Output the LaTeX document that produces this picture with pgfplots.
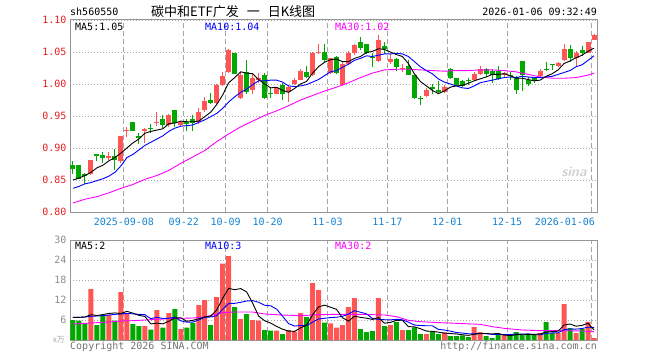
\documentclass[border=0pt]{standalone}
\usepackage{pgfplots}
\pgfplotsset{compat=1.18}
\usepackage{pgfplotstable}
\usepackage{fontspec}
\setmonofont{DejaVu Sans Mono}
\newfontfamily\cjk{Noto Sans CJK SC}
\definecolor{cred}{RGB}{255,85,85}
\definecolor{cgreen}{RGB}{0,168,0}
\definecolor{mablue}{RGB}{0,0,255}
\definecolor{mamag}{RGB}{255,0,255}
\definecolor{xlab}{RGB}{20,130,210}
\definecolor{ylab}{RGB}{230,30,30}
\definecolor{framec}{RGB}{150,150,150}
\definecolor{gridc}{RGB}{165,165,165}
\newcommand\lab{\ttfamily\fontsize{10bp}{11bp}\selectfont}

% candles: x, lo=min(open,close), hi=max(open,close), l=low, h=high
\pgfplotstableread[row sep=\\]{
x lo hi l h\\
3 0.860 0.882 0.858 0.882\\
6 0.884 0.887 0.881 0.894\\
8 0.879 0.918 0.876 0.919\\
9 0.927 0.928 0.917 0.933\\
12 0.927 0.930 0.908 0.931\\
14 0.939 0.941 0.935 0.956\\
16 0.936 0.952 0.933 0.953\\
18 0.936 0.940 0.934 0.942\\
21 0.940 0.957 0.938 0.962\\
22 0.959 0.974 0.957 0.980\\
24 0.970 0.998 0.969 1.000\\
25 0.998 1.013 0.997 1.018\\
26 1.018 1.053 1.017 1.054\\
28 0.978 1.014 0.976 1.018\\
30 0.991 1.009 0.985 1.017\\
31 1.007 1.010 1.001 1.017\\
34 0.985 0.993 0.984 0.995\\
36 0.988 0.996 0.972 0.998\\
37 1.000 1.006 0.998 1.009\\
38 1.007 1.021 1.006 1.023\\
40 1.014 1.049 1.012 1.050\\
41 1.049 1.050 1.047 1.063\\
43 1.017 1.040 1.016 1.041\\
45 0.998 1.032 0.997 1.035\\
46 1.031 1.049 1.029 1.051\\
47 1.048 1.061 1.046 1.062\\
51 1.036 1.069 1.035 1.076\\
53 1.035 1.039 1.032 1.047\\
55 1.024 1.025 1.018 1.031\\
59 0.981 0.990 0.980 0.993\\
62 0.988 0.996 0.986 0.999\\
67 1.006 1.015 1.004 1.019\\
68 1.016 1.024 1.014 1.028\\
72 1.014 1.017 1.011 1.019\\
78 1.013 1.020 1.011 1.023\\
81 1.028 1.033 1.027 1.034\\
82 1.037 1.054 1.036 1.062\\
84 1.040 1.049 1.028 1.052\\
86 1.049 1.065 1.048 1.066\\
87 1.069 1.077 1.068 1.078\\
}\redtab
\pgfplotstableread[row sep=\\]{
x lo hi l h\\
0 0.867 0.873 0.860 0.879\\
1 0.852 0.873 0.851 0.874\\
2 0.857 0.860 0.843 0.861\\
4 0.888 0.890 0.879 0.890\\
5 0.885 0.889 0.877 0.894\\
7 0.881 0.888 0.866 0.899\\
10 0.926 0.940 0.926 0.940\\
11 0.915 0.919 0.907 0.924\\
13 0.929 0.931 0.924 0.937\\
15 0.936 0.945 0.931 0.952\\
17 0.939 0.959 0.933 0.959\\
19 0.937 0.940 0.926 0.946\\
20 0.939 0.945 0.927 0.952\\
23 0.971 0.975 0.969 0.986\\
27 1.016 1.049 1.015 1.049\\
29 0.988 1.019 0.985 1.037\\
32 0.978 1.014 0.977 1.017\\
33 0.985 0.986 0.978 0.993\\
35 0.985 0.998 0.975 1.001\\
39 1.011 1.018 1.009 1.028\\
42 1.038 1.050 1.035 1.062\\
44 1.017 1.042 1.016 1.043\\
48 1.056 1.066 1.053 1.073\\
49 1.049 1.062 1.047 1.063\\
50 1.041 1.042 1.026 1.049\\
52 1.054 1.059 1.047 1.065\\
54 1.026 1.039 1.021 1.041\\
56 1.014 1.028 1.014 1.037\\
57 0.978 1.014 0.977 1.014\\
58 0.977 0.978 0.967 0.981\\
60 0.992 0.996 0.984 1.000\\
61 0.988 0.991 0.985 1.004\\
63 1.009 1.023 1.008 1.025\\
64 0.999 1.009 0.998 1.010\\
65 0.997 1.004 0.996 1.006\\
66 1.005 1.007 0.999 1.009\\
69 1.015 1.024 1.011 1.025\\
70 1.014 1.020 1.002 1.024\\
71 1.008 1.020 1.006 1.028\\
73 1.013 1.014 1.007 1.019\\
74 0.991 1.011 0.985 1.012\\
75 1.014 1.036 0.989 1.036\\
76 1.000 1.007 0.997 1.011\\
77 1.006 1.009 1.002 1.011\\
79 1.022 1.024 1.021 1.034\\
80 1.030 1.031 1.022 1.032\\
83 1.040 1.054 1.035 1.061\\
85 1.049 1.053 1.043 1.059\\
}\greentab
\pgfplotstableread[row sep=\\]{
x m5 m10\\
0 0.850 0.837\\ 1 0.853 0.840\\ 2 0.857 0.844\\ 3 0.862 0.846\\ 4 0.869 0.849\\
5 0.873 0.852\\ 6 0.880 0.856\\ 7 0.885 0.862\\ 8 0.892 0.872\\ 9 0.900 0.885\\
10 0.908 0.890\\ 11 0.914 0.897\\ 12 0.923 0.904\\ 13 0.926 0.909\\ 14 0.928 0.914\\
15 0.930 0.919\\ 16 0.938 0.926\\ 17 0.939 0.931\\ 18 0.942 0.934\\ 19 0.941 0.935\\
20 0.941 0.936\\ 21 0.942 0.940\\ 22 0.949 0.944\\ 23 0.956 0.949\\ 24 0.968 0.954\\
25 0.983 0.962\\ 26 1.002 0.972\\ 27 1.010 0.980\\ 28 1.019 0.987\\ 29 1.017 0.992\\
30 1.016 0.999\\ 31 1.007 1.005\\ 32 1.000 1.005\\ 33 0.994 1.006\\ 34 0.995 1.006\\
35 0.990 1.003\\ 36 0.987 0.997\\ 37 0.993 0.996\\ 38 1.000 0.997\\ 39 1.004 0.999\\
40 1.017 1.003\\ 41 1.027 1.007\\ 42 1.034 1.013\\ 43 1.038 1.019\\ 44 1.039 1.021\\
45 1.035 1.026\\ 46 1.035 1.031\\ 47 1.040 1.037\\ 48 1.043 1.040\\ 49 1.049 1.044\\
50 1.051 1.043\\ 51 1.055 1.045\\ 52 1.054 1.047\\ 53 1.050 1.047\\ 54 1.046 1.048\\
55 1.043 1.047\\ 56 1.032 1.043\\ 57 1.016 1.035\\ 58 1.004 1.027\\ 59 0.997 1.021\\
60 0.990 1.016\\ 61 0.985 1.008\\ 62 0.989 1.003\\ 63 0.995 1.000\\ 64 0.997 0.997\\
65 0.998 0.994\\ 66 1.001 0.993\\ 67 1.005 0.997\\ 68 1.008 1.002\\ 69 1.011 1.004\\
70 1.015 1.006\\ 71 1.015 1.008\\ 72 1.016 1.010\\ 73 1.013 1.011\\ 74 1.009 1.010\\
75 1.009 1.012\\ 76 1.007 1.011\\ 77 1.005 1.010\\ 78 1.006 1.010\\ 79 1.012 1.011\\
80 1.016 1.012\\ 81 1.022 1.015\\ 82 1.032 1.018\\ 83 1.036 1.021\\ 84 1.041 1.027\\
85 1.045 1.030\\ 86 1.051 1.037\\ 87 1.056 1.044\\
}\matab
\pgfplotstableread[row sep=\\]{
x m30\\
0 0.814\\ 2 0.820\\ 4 0.824\\ 6 0.830\\ 8 0.837\\ 10 0.843\\ 12 0.851\\ 14 0.857\\
16 0.865\\ 18 0.876\\ 20 0.886\\ 22 0.896\\ 24 0.910\\ 26 0.922\\ 28 0.933\\ 30 0.942\\
32 0.951\\ 34 0.958\\ 36 0.966\\ 38 0.975\\ 40 0.982\\ 42 0.989\\ 44 0.995\\ 46 1.002\\
48 1.010\\ 50 1.017\\ 52 1.022\\ 54 1.023\\ 56 1.023\\ 58 1.022\\ 60 1.021\\ 62 1.020\\
64 1.021\\ 66 1.021\\ 68 1.022\\ 70 1.022\\ 72 1.021\\ 74 1.019\\ 76 1.015\\ 78 1.011\\
80 1.009\\ 82 1.009\\ 84 1.010\\ 86 1.014\\ 87 1.017\\
}\mathirty
\pgfplotstableread[row sep=\\]{
x v\\
3 15.3\\ 6 7.5\\ 8 14.4\\ 9 7.8\\ 12 4.2\\ 14 9.0\\ 16 8.1\\ 18 3.3\\ 21 10.5\\ 22 12.0\\
24 12.9\\ 25 22.9\\ 26 25.2\\ 28 6.3\\ 30 6.0\\ 31 5.8\\ 34 2.8\\ 36 3.0\\ 37 2.5\\ 38 8.1\\
40 17.1\\ 41 15.0\\ 43 5.0\\ 44 3.7\\ 45 4.5\\ 46 9.9\\ 47 12.6\\ 51 12.6\\ 53 4.5\\ 55 3.0\\
59 1.8\\ 62 2.3\\ 67 3.9\\ 68 2.4\\ 72 1.5\\ 78 2.1\\ 81 2.1\\ 82 10.8\\ 84 2.1\\ 86 5.4\\
87 0.6\\
}\volred
\pgfplotstableread[row sep=\\]{
x v\\
0 6.0\\ 1 5.8\\ 2 5.1\\ 4 4.5\\ 5 7.5\\ 7 5.8\\ 10 4.8\\ 11 4.2\\ 13 3.1\\ 15 3.7\\
17 9.3\\ 19 3.7\\ 20 5.1\\ 23 4.5\\ 27 9.9\\ 29 7.8\\ 32 3.0\\ 33 2.8\\ 35 1.8\\ 39 6.9\\
42 5.2\\ 48 3.3\\ 49 2.4\\ 50 2.7\\ 52 4.2\\ 54 5.4\\ 56 3.0\\ 57 3.8\\ 58 1.8\\ 60 2.6\\
61 1.8\\ 63 1.2\\ 64 1.2\\ 65 1.4\\ 66 0.9\\ 69 1.2\\ 70 0.6\\ 71 1.8\\ 73 1.5\\ 74 2.4\\
75 1.5\\ 76 1.5\\ 77 1.5\\ 79 5.4\\ 80 2.1\\ 83 3.6\\ 85 3.3\\
}\volgreen
\pgfplotstableread[row sep=\\]{
x v5 v10\\
0 6.8 6.8\\ 1 6.8 6.8\\ 2 6.9 6.9\\ 3 7.6 7.1\\ 4 7.34 7.2\\ 5 7.64 7.3\\ 6 7.98 7.5\\
7 8.12 7.7\\ 8 7.94 7.8\\ 9 8.6 7.97\\ 10 8.06 7.85\\ 11 7.4 7.69\\ 12 7.08 7.6\\
13 4.82 6.38\\ 14 5.06 6.83\\ 15 4.84 6.45\\ 16 5.62 6.51\\ 17 6.64 6.86\\ 18 6.68 5.75\\
19 5.62 5.34\\ 20 5.9 5.37\\ 21 6.38 6.0\\ 22 6.92 6.78\\ 23 7.16 6.92\\ 24 9.0 7.31\\
25 12.56 9.23\\ 26 15.5 10.94\\ 27 15.08 11.0\\ 28 15.44 11.3\\ 29 14.42 11.71\\
30 11.04 11.8\\ 31 7.16 11.33\\ 32 5.78 10.43\\ 33 5.08 10.26\\ 34 4.08 9.25\\
35 3.24 7.14\\ 36 2.68 4.92\\ 37 2.58 4.18\\ 38 3.64 4.36\\ 39 4.46 4.27\\ 40 7.52 5.38\\
41 9.92 6.3\\ 42 10.46 6.52\\ 43 9.84 6.74\\ 44 9.2 6.83\\ 45 6.68 7.1\\ 46 5.66 7.79\\
47 7.14 8.8\\ 48 6.8 8.32\\ 49 6.54 7.87\\ 50 6.18 6.43\\ 51 6.72 6.19\\ 52 5.04 6.09\\
53 5.28 6.04\\ 54 5.88 6.21\\ 55 5.94 6.06\\ 56 4.02 5.37\\ 57 3.94 4.49\\ 58 3.4 4.34\\
59 2.68 4.28\\ 60 2.6 4.27\\ 61 2.36 3.19\\ 62 2.06 3.0\\ 63 1.94 2.67\\ 64 1.82 2.25\\
65 1.58 2.09\\ 66 1.4 1.88\\ 67 1.72 1.89\\ 68 1.96 1.95\\ 69 1.96 1.89\\ 70 1.8 1.69\\
71 1.98 1.69\\ 72 1.5 1.61\\ 73 1.32 1.64\\ 74 1.56 1.76\\ 75 1.74 1.77\\ 76 1.68 1.83\\
77 1.68 1.59\\ 78 1.8 1.56\\ 79 2.4 1.98\\ 80 2.52 2.13\\ 81 2.64 2.16\\ 82 4.5 3.09\\
83 4.8 3.3\\ 84 4.14 3.27\\ 85 4.38 3.45\\ 86 5.04 3.84\\ 87 3.0 3.75\\
}\vmatab
\pgfplotstableread[row sep=\\]{
x v30\\
0 4.8\\ 2 5.0\\ 4 5.2\\ 6 5.4\\ 8 5.7\\ 10 5.8\\ 12 6.0\\ 14 6.2\\ 16 6.4\\ 18 6.5\\
20 6.6\\ 22 6.9\\ 24 7.8\\ 25 8.2\\ 27 8.4\\ 30 8.4\\ 32 7.8\\ 35 7.5\\ 38 7.3\\ 41 7.6\\
44 7.7\\ 48 7.7\\ 52 7.5\\ 54 7.0\\ 56 5.9\\ 58 5.5\\ 60 5.3\\ 64 5.0\\ 68 4.7\\ 70 4.0\\
72 3.5\\ 75 3.0\\ 78 2.8\\ 82 2.8\\ 85 2.7\\ 87 2.5\\
}\vmathirty

\pgfplotsset{
  kbase/.style={
    scale only axis, width=527bp, xmin=-0.5, xmax=87.5, enlargelimits=false,
    axis line style={draw=framec, line width=1bp},
    major tick length=0pt,
    xtick={8.5,18.5,25.5,32.5,42.5,52.5,62.5,72.5,86.5},
    xmajorgrids, ymajorgrids,
    x grid style={draw=gridc, line width=1bp, dash pattern=on 5bp off 3bp},
    y grid style={draw=gridc, line width=0.8bp, dash pattern=on 1bp off 2bp},
    every tick label/.append style={font=\lab},
  },
  wick/.style={draw=none, mark=none, forget plot,
    error bars/.cd, y dir=plus, y explicit, error mark=none,
    error bar style={draw=#1, line width=1bp}},
  body/.style={draw=none, mark=none, forget plot,
    error bars/.cd, y dir=plus, y explicit, error mark=none,
    error bar style={draw=#1, line width=5bp}},
}

\begin{document}
\begin{tikzpicture}[x=1bp,y=1bp]
\path[use as bounding box] (0,0) rectangle (660,360);

% ---- price panel ----
\begin{axis}[kbase, at={(70bp,148bp)}, anchor=south west, height=192bp,
  ymin=0.8, ymax=1.1,
  ytick={0.8,0.85,0.9,0.95,1.0,1.05,1.1},
  yticklabels={0.80,0.85,0.90,0.95,1.00,1.05,1.10},
  yticklabel style={text=ylab},
  xticklabels={2025-09-08,09-22,10-09,10-20,11-03,11-17,12-01,12-15,\makebox[8bp][r]{2026-01-06}},
  xticklabel style={text=xlab, yshift=-3bp},
]
\addplot[wick=cred] table[x=x, y=l, y error plus expr=\thisrow{h}-\thisrow{l}] {\redtab};
\addplot[body=cred] table[x=x, y=lo, y error plus expr={max(\thisrow{hi}-\thisrow{lo},0.0016)}] {\redtab};
\addplot[wick=cgreen] table[x=x, y=l, y error plus expr=\thisrow{h}-\thisrow{l}] {\greentab};
\addplot[body=cgreen] table[x=x, y=lo, y error plus expr={max(\thisrow{hi}-\thisrow{lo},0.0016)}] {\greentab};
\addplot[mamag, line width=0.9bp] table[x=x, y=m30] {\mathirty};
\addplot[mablue, line width=0.9bp] table[x=x, y=m10] {\matab};
\addplot[black, line width=0.9bp] table[x=x, y=m5] {\matab};
\end{axis}

% ---- volume panel ----
\begin{axis}[kbase, at={(70bp,20bp)}, anchor=south west, height=100bp,
  ymin=0, ymax=30,
  ytick={6,12,18,24,30},
  yticklabels={6,12,18,24,30},
  yticklabel style={text=black!45},
  xticklabels={},
]
\addplot[ybar, bar width=5bp, bar shift=0pt, fill=cred, draw=none] table[x=x, y=v] {\volred};
\addplot[ybar, bar width=5bp, bar shift=0pt, fill=cgreen, draw=none] table[x=x, y=v] {\volgreen};
\addplot[mamag, line width=0.9bp] table[x=x, y=v30] {\vmathirty};
\addplot[mablue, line width=0.9bp] table[x=x, y=v10] {\vmatab};
\addplot[black, line width=0.9bp] table[x=x, y=v5] {\vmatab};
\end{axis}

% ---- texts ----
\node[anchor=west, inner sep=0] at (70,348) {\lab sh560550};
\node[anchor=west, inner sep=0] at (151,348) {\cjk\fontsize{13bp}{14bp}\selectfont 碳中和ETF广发\hspace{8bp}一\hspace{8bp}日K线图};
\node[anchor=east, inner sep=0] at (597,348) {\lab 2026-01-06 09:32:49};
\node[anchor=west, inner sep=0] at (75,333) {\lab MA5:1.05};
\node[anchor=west, inner sep=0, text=mablue] at (205,333) {\lab MA10:1.04};
\node[anchor=west, inner sep=0, text=mamag] at (335,333) {\lab MA30:1.02};
\node[anchor=west, inner sep=0] at (75,114) {\lab MA5:2};
\node[anchor=west, inner sep=0, text=mablue] at (205,114) {\lab MA10:3};
\node[anchor=west, inner sep=0, text=mamag] at (335,114) {\lab MA30:2};
\node[anchor=east, inner sep=0, text=black!35] at (65,20) {\cjk\fontsize{8bp}{9bp}\selectfont x万};
\node[anchor=west, inner sep=0, text=black!55] at (70,13) {\lab Copyright 2026 SINA.COM};
\node[anchor=east, inner sep=0, text=black!55] at (597,13) {\lab http://finance.sina.com.cn};
\node[text=black!18, inner sep=0] at (574,188) {\sffamily\bfseries\itshape\fontsize{14bp}{14bp}\selectfont sina};
\end{tikzpicture}
\end{document}
